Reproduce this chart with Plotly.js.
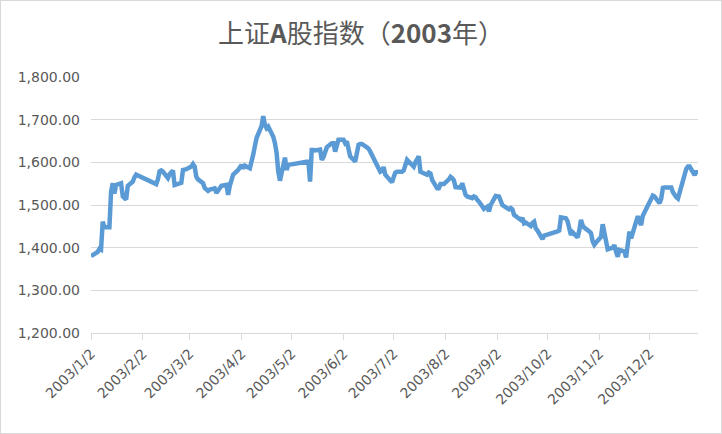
<!DOCTYPE html>
<html>
<head>
<meta charset="utf-8">
<script src="https://cdn.plot.ly/plotly-3.0.1.min.js"></script>
<style>
html,body{margin:0;padding:0;background:#fff;}
#chart{width:722px;height:434px;box-sizing:border-box;border:1px solid #d9d9d9;}
</style>
</head>
<body>
<div id="chart"></div>
<script>
const dates = [
"2003-01-02","2003-01-06","2003-01-07","2003-01-08","2003-01-09","2003-01-10","2003-01-13","2003-01-14","2003-01-15","2003-01-16","2003-01-17",
"2003-01-20","2003-01-21","2003-01-22","2003-01-23","2003-01-24","2003-01-27","2003-01-28","2003-01-29",
"2003-02-10","2003-02-11","2003-02-12","2003-02-13","2003-02-14","2003-02-17","2003-02-18","2003-02-19","2003-02-20","2003-02-21",
"2003-02-24","2003-02-25","2003-02-26","2003-02-27","2003-02-28",
"2003-03-03","2003-03-04","2003-03-05","2003-03-06","2003-03-07","2003-03-10","2003-03-11","2003-03-12","2003-03-13","2003-03-14",
"2003-03-17","2003-03-18","2003-03-19","2003-03-20","2003-03-21","2003-03-24","2003-03-25","2003-03-26","2003-03-27","2003-03-28",
"2003-03-31","2003-04-01","2003-04-02","2003-04-03","2003-04-04","2003-04-07","2003-04-08","2003-04-09","2003-04-10","2003-04-11",
"2003-04-14","2003-04-15","2003-04-16","2003-04-17","2003-04-18","2003-04-21","2003-04-22","2003-04-23","2003-04-24","2003-04-25",
"2003-04-28","2003-04-29","2003-04-30",
"2003-05-12","2003-05-13","2003-05-14","2003-05-15","2003-05-16","2003-05-19","2003-05-20","2003-05-21","2003-05-22","2003-05-23",
"2003-05-26","2003-05-27","2003-05-28","2003-05-29","2003-05-30",
"2003-06-02","2003-06-03","2003-06-04","2003-06-05","2003-06-06","2003-06-09","2003-06-10","2003-06-11","2003-06-12","2003-06-13",
"2003-06-16","2003-06-17","2003-06-18","2003-06-19","2003-06-20","2003-06-23","2003-06-24","2003-06-25","2003-06-26","2003-06-27",
"2003-06-30","2003-07-01","2003-07-02","2003-07-03","2003-07-04","2003-07-07","2003-07-08","2003-07-09","2003-07-10","2003-07-11",
"2003-07-14","2003-07-15","2003-07-16","2003-07-17","2003-07-18","2003-07-21","2003-07-22","2003-07-23","2003-07-24","2003-07-25",
"2003-07-28","2003-07-29","2003-07-30","2003-07-31","2003-08-01",
"2003-08-04","2003-08-05","2003-08-06","2003-08-07","2003-08-08","2003-08-11","2003-08-12","2003-08-13","2003-08-14","2003-08-15",
"2003-08-18","2003-08-19","2003-08-20","2003-08-21","2003-08-22","2003-08-25","2003-08-26","2003-08-27","2003-08-28","2003-08-29",
"2003-09-01","2003-09-02","2003-09-03","2003-09-04","2003-09-05","2003-09-08","2003-09-09","2003-09-10","2003-09-11","2003-09-12",
"2003-09-15","2003-09-16","2003-09-17","2003-09-18","2003-09-19","2003-09-22","2003-09-23","2003-09-24","2003-09-25","2003-09-26",
"2003-09-29","2003-09-30",
"2003-10-08","2003-10-09","2003-10-10","2003-10-13","2003-10-14","2003-10-15","2003-10-16","2003-10-17",
"2003-10-20","2003-10-21","2003-10-22","2003-10-23","2003-10-24","2003-10-27","2003-10-28","2003-10-29","2003-10-30","2003-10-31",
"2003-11-03","2003-11-04","2003-11-05","2003-11-06","2003-11-07","2003-11-10","2003-11-11","2003-11-12","2003-11-13","2003-11-14",
"2003-11-17","2003-11-18","2003-11-19","2003-11-20","2003-11-21","2003-11-24","2003-11-25","2003-11-26","2003-11-27","2003-11-28",
"2003-12-01","2003-12-02","2003-12-03","2003-12-04","2003-12-05","2003-12-08","2003-12-09","2003-12-10","2003-12-11","2003-12-12",
"2003-12-15","2003-12-16","2003-12-17","2003-12-18","2003-12-19","2003-12-22","2003-12-23","2003-12-24","2003-12-25","2003-12-26",
"2003-12-29","2003-12-30","2003-12-31"
];
const indexValues = [
1380,1390,1397,1395,1461,1448,1448,1531,1551,1527,1547,
1551,1520,1517,1513,1545,1555,1565,1571,
1549,1560,1579,1581,1578,1563,1572,1579,1581,1547,
1551,1552,1582,1582,1584,
1590,1596,1590,1566,1560,1551,1540,1535,1533,1536,
1539,1528,1535,1539,1545,1547,1524,1545,1559,1571,
1582,1588,1594,1586,1592,1586,1610,1618,1638,1657,
1685,1708,1688,1680,1684,1660,1645,1622,1578,1557,
1611,1582,1594,
1602,1555,1629,1629,1628,1630,1606,1612,1629,1635,
1645,1645,1625,1640,1653,
1653,1645,1649,1625,1614,1602,1620,1641,1643,1643,
1635,1632,1625,1618,1606,1585,1578,1580,1589,1571,
1557,1553,1565,1576,1578,1578,1581,1600,1606,1602,
1590,1600,1608,1614,1578,1574,1571,1576,1574,1559,
1539,1539,1549,1549,1549,
1560,1566,1563,1558,1542,1541,1551,1535,1524,1520,
1516,1520,1518,1512,1508,1491,1493,1496,1485,1500,
1521,1521,1520,1510,1500,1492,1490,1493,1490,1477,
1467,1465,1470,1457,1459,1451,1458,1461,1445,1440,
1420,1428,
1438,1440,1471,1469,1462,1450,1430,1436,
1424,1440,1465,1452,1447,1438,1434,1415,1407,1412,
1425,1455,1432,1405,1396,1400,1406,1390,1379,1395,
1391,1377,1420,1438,1422,1461,1474,1462,1453,1475,
1500,1506,1514,1522,1520,1504,1515,1540,1541,1541,
1541,1530,1522,1518,1515,1560,1576,1585,1590,1590,
1570,1580,1572
];
const tickDates = ["2003-01-02","2003-02-02","2003-03-02","2003-04-02","2003-05-02","2003-06-02","2003-07-02","2003-08-02","2003-09-02","2003-10-02","2003-11-02","2003-12-02"];
const tickLabels = ["2003/1/2","2003/2/2","2003/3/2","2003/4/2","2003/5/2","2003/6/2","2003/7/2","2003/8/2","2003/9/2","2003/10/2","2003/11/2","2003/12/2"];
const yTicks = [1200,1300,1400,1500,1600,1700,1800];
const chartTitle = "上证<b>A</b>股指数（<b>2003</b>年）";

const fontFam = "DejaVu Sans, Noto Sans CJK SC, sans-serif";
const trace = {
  x: dates, y: indexValues, type: "scatter", mode: "lines",
  line: {color: "#5b9bd5", width: 4.5, shape: "linear"},
  hoverinfo: "skip"
};
const layout = {
  width: 720, height: 432,
  margin: {l: 90, r: 23, t: 76, b: 100},
  paper_bgcolor: "#ffffff", plot_bgcolor: "#ffffff",
  showlegend: false,
  title: {text: chartTitle, x: 0.5, xanchor: "center", y: 0.925, yanchor: "middle",
    font: {family: "Noto Sans CJK SC, sans-serif", size: 26, color: "#595959"}},
  xaxis: {
    type: "date", range: ["2003-01-02", "2003-12-31"],
    tickmode: "array", tickvals: tickDates, ticktext: tickLabels,
    tickangle: -45, ticks: "outside", ticklen: 6, tickcolor: "#d9d9d9", tickwidth: 1,
    showline: true, linecolor: "#d9d9d9", linewidth: 1,
    showgrid: false, zeroline: false,
    tickfont: {family: fontFam, size: 14, color: "#595959"}
  },
  yaxis: {
    range: [1200, 1800], tickmode: "array", tickvals: yTicks,
    tickformat: ",.2f", showgrid: true, gridcolor: "#d9d9d9", gridwidth: 1,
    showline: false, zeroline: false, ticks: "", ticklabelstandoff: 10,
    tickfont: {family: fontFam, size: 14, color: "#595959"}
  }
};
Plotly.newPlot("chart", [trace], layout, {displayModeBar: false, staticPlot: true});
</script>
</body>
</html>
